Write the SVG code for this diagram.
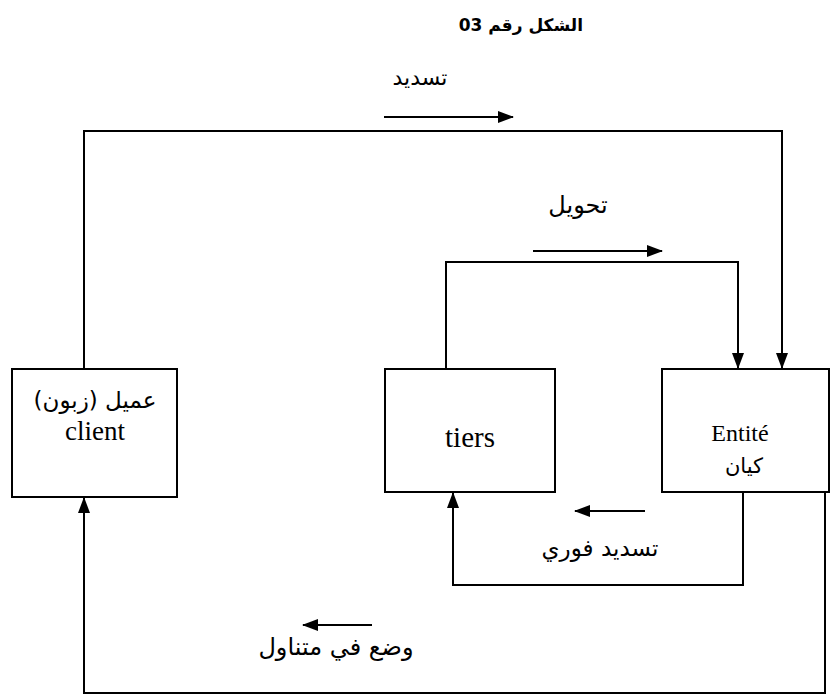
<svg xmlns="http://www.w3.org/2000/svg" width="832" height="695" viewBox="0 0 832 695">
<style>
.box{fill:#fff;stroke:#000;stroke-width:2}
.ln{fill:none;stroke:#000;stroke-width:2}
.lat{font-family:"Liberation Serif","Times New Roman",serif;fill:#000}
.ar{font-family:"DejaVu Sans","Noto Sans",sans-serif;fill:#000}
</style>
<defs>
<marker id="ah" markerWidth="16" markerHeight="12" refX="15" refY="6" orient="auto" markerUnits="userSpaceOnUse">
<path d="M0,0 L16,6 L0,12 Z" fill="#000"/>
</marker>
</defs>
<rect width="832" height="695" fill="#fff"/>
<text class="ar" x="583" y="31" font-size="17" font-weight="bold" direction="rtl" text-anchor="start">الشكل رقم 03</text>
<g id="connectors">
<polyline class="ln" points="84,369 84,131 782,131 782,368" marker-end="url(#ah)"/>
<polyline class="ln" points="446,369 446,262 738,262 738,368" marker-end="url(#ah)"/>
<polyline class="ln" points="743,492 743,585 453,585 453,493" marker-end="url(#ah)"/>
<polyline class="ln" points="825,492 825,693 84,693 84,498" marker-end="url(#ah)"/>
<line class="ln" x1="384" y1="117" x2="513" y2="117" marker-end="url(#ah)"/>
<line class="ln" x1="533" y1="251" x2="662" y2="251" marker-end="url(#ah)"/>
<line class="ln" x1="645" y1="511" x2="575" y2="511" marker-end="url(#ah)"/>
<line class="ln" x1="372" y1="625" x2="303" y2="625" marker-end="url(#ah)"/>
<text class="ar" x="420" y="85" font-size="22" text-anchor="middle">تسديد</text>
<text class="ar" x="578" y="213" font-size="24" text-anchor="middle">تحويل</text>
<text class="ar" x="600" y="556" font-size="23" text-anchor="middle">تسديد فوري</text>
<text class="ar" x="336" y="655" font-size="24" text-anchor="middle">وضع في متناول</text>
</g>
<g id="client">
<rect class="box" x="12" y="369" width="165" height="128"/>
<text class="ar" x="95" y="408" font-size="23" text-anchor="middle">عميل (زبون)</text>
<text class="lat" x="95" y="440" font-size="27" text-anchor="middle">client</text>
</g>
<g id="tiers">
<rect class="box" x="385" y="369" width="170" height="123"/>
<text class="lat" x="470" y="447" font-size="29" text-anchor="middle">tiers</text>
</g>
<g id="entite">
<rect class="box" x="662" y="369" width="167" height="123"/>
<text class="lat" x="740" y="441" font-size="24" text-anchor="middle">Entité</text>
<text class="ar" x="744" y="473" font-size="21" text-anchor="middle">كيان</text>
</g>
</svg>
